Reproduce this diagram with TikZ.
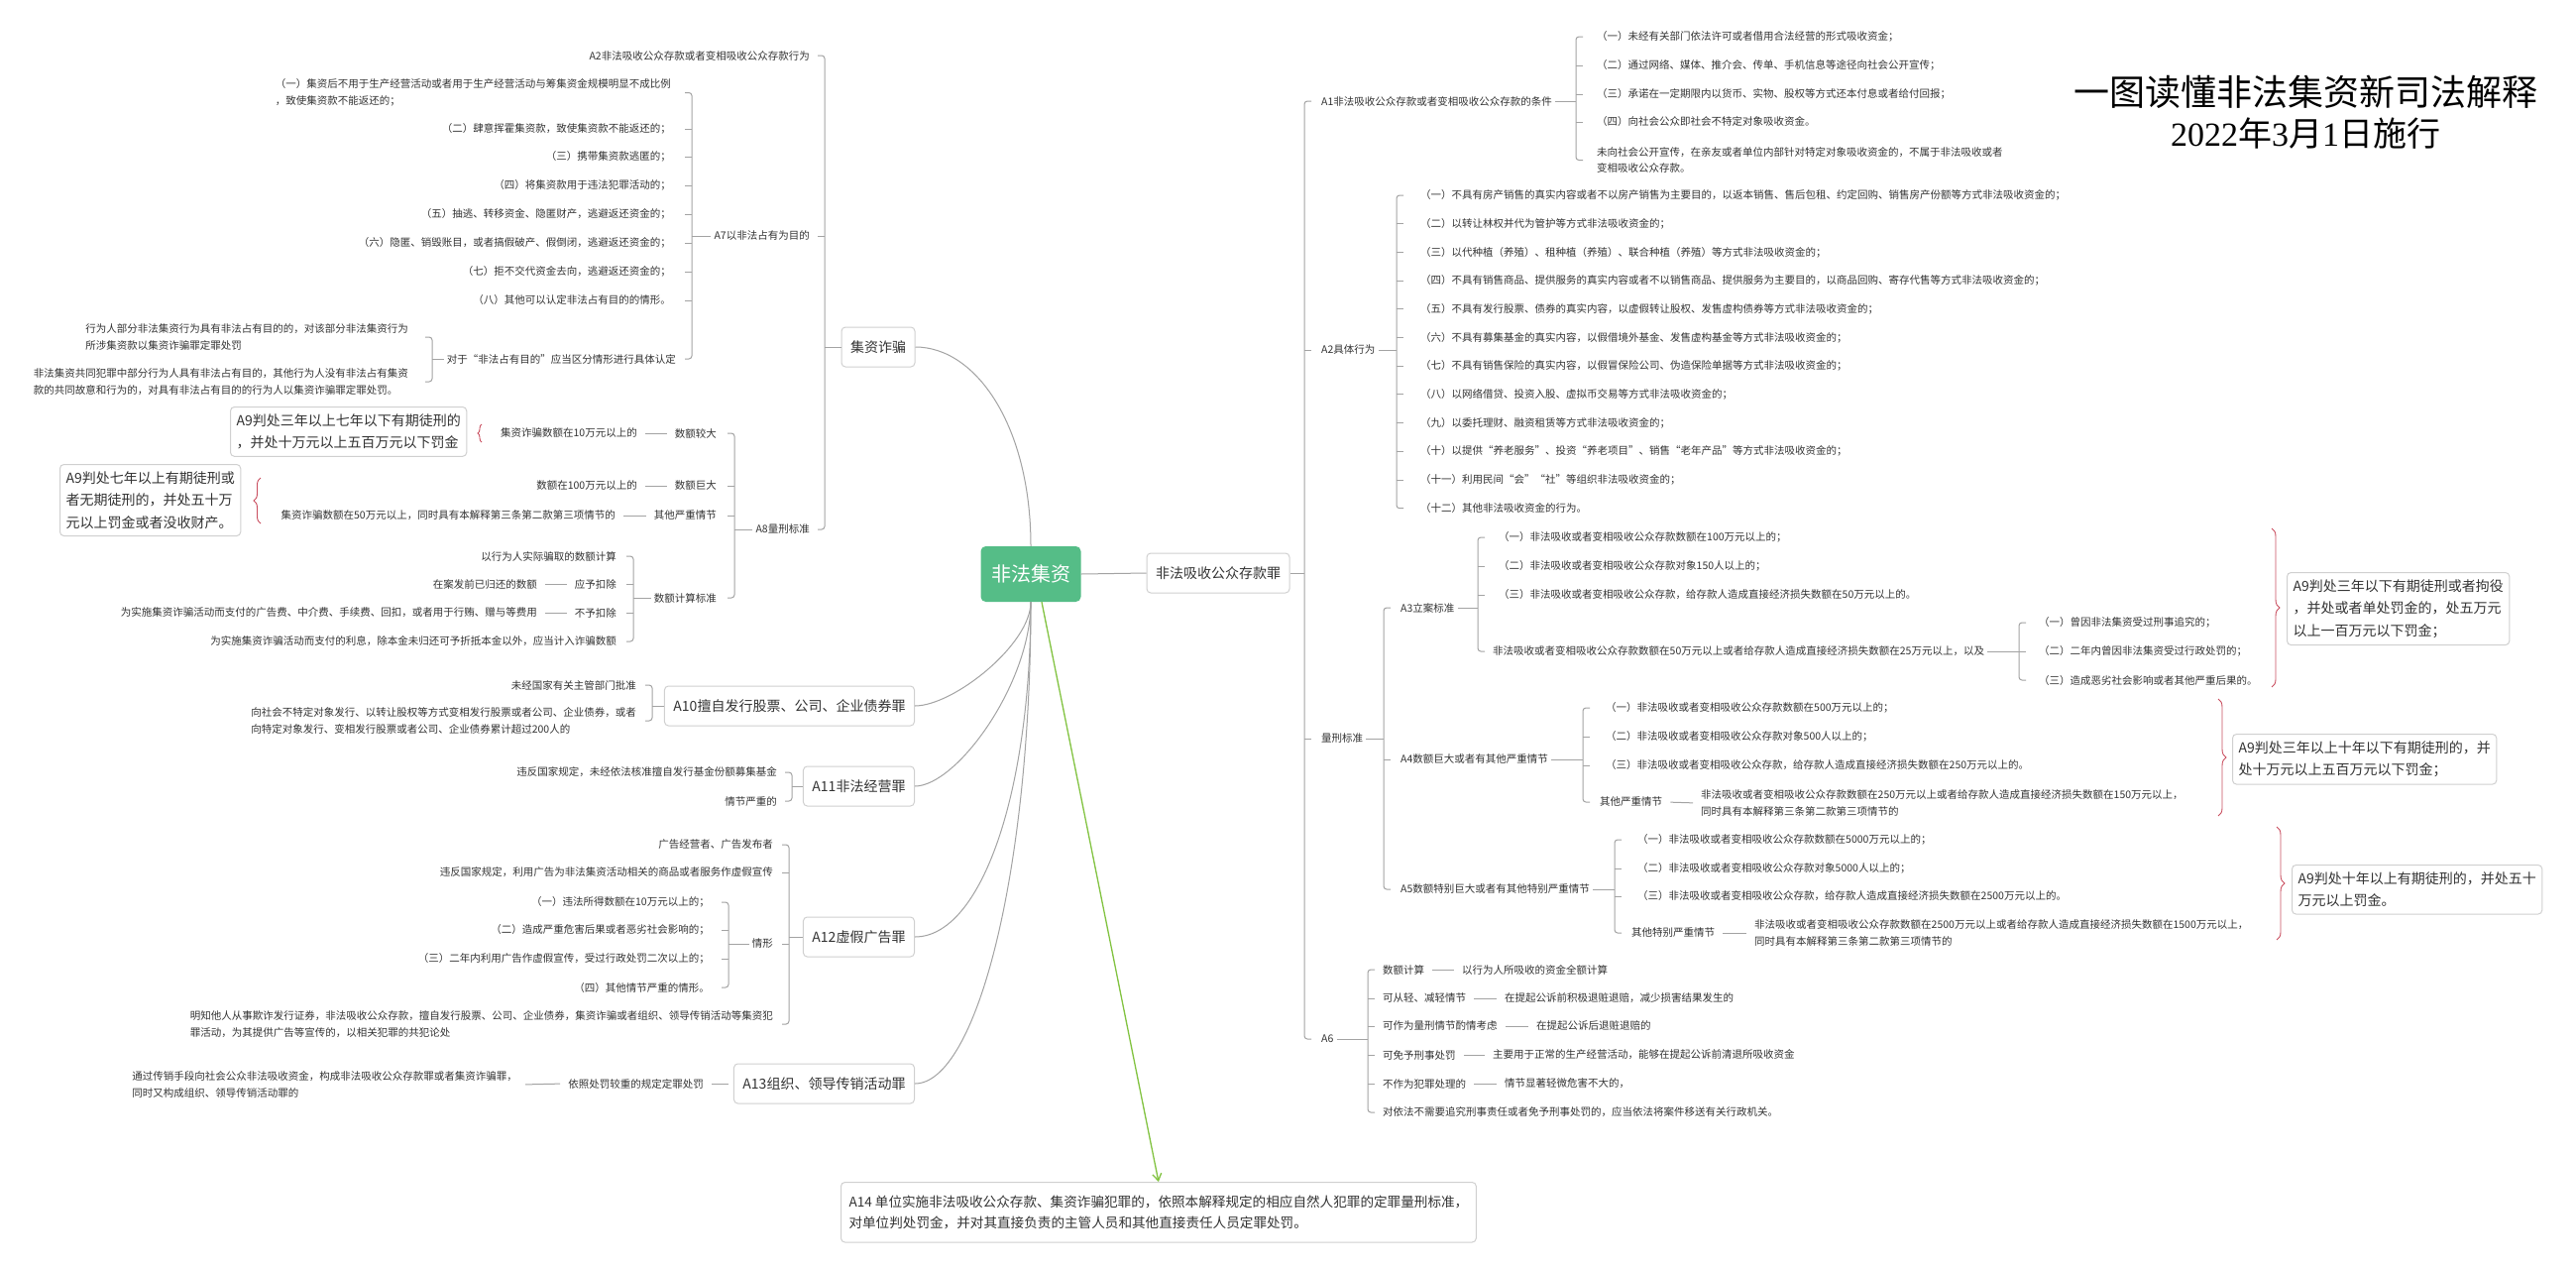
\documentclass[tikz,border=0pt]{standalone}
\usepackage{fontspec}
\setmainfont{Noto Sans CJK SC}
\newfontfamily\numserif{Liberation Serif}
\usetikzlibrary{calc,decorations.pathreplacing,arrows.meta}
\definecolor{txt}{HTML}{333333}
\definecolor{lnc}{HTML}{A3A3A3}
\definecolor{bxc}{HTML}{D0D0D0}
\definecolor{rootc}{HTML}{55BD87}
\definecolor{grn}{HTML}{82C341}
\definecolor{redb}{HTML}{C94D5E}
\newcommand{\RBr}[4]{%
  \draw[ln] (#1.east) -- (#1.east -| #2);
  \draw[ln, rounded corners=3pt] ($(#3.west -| #2)+(7,0)$) -- (#3.west -| #2) -- (#4.west -| #2) -- ($(#4.west -| #2)+(7,0)$);}
\newcommand{\RTk}[2]{\draw[ln] (#1.west -| #2) -- ++(7,0);}
\newcommand{\LBr}[4]{%
  \draw[ln] (#1.west) -- (#1.west -| #2);
  \draw[ln, rounded corners=3pt] ($(#3.east -| #2)+(-7,0)$) -- (#3.east -| #2) -- (#4.east -| #2) -- ($(#4.east -| #2)+(-7,0)$);}
\newcommand{\LTk}[2]{\draw[ln] (#1.east -| #2) -- ++(-7,0);}
\begin{document}
\begin{tikzpicture}[x=1pt,y=-1pt,
  sm/.style={font=\fontsize{10.5}{16.5}\selectfont, text=txt, inner sep=3pt, align=left},
  smw/.style={sm, anchor=west},
  sme/.style={sm, anchor=east},
  ln/.style={draw=lnc, line width=1pt},
  lk/.style={ln, shorten <=5pt, shorten >=5pt},
  box/.style={draw=bxc, line width=1pt, rounded corners=4pt, fill=white, text=txt, font=\fontsize{14}{20}\selectfont, inner xsep=9pt, inner ysep=0pt, minimum height=40pt},
  root/.style={fill=rootc, text=white, rounded corners=5pt, font=\fontsize{20}{24}\selectfont, minimum width=101pt, minimum height=56pt, inner sep=0pt},
  nine/.style={draw=bxc, line width=1pt, rounded corners=4pt, fill=white, text=txt, font=\fontsize{14}{22.5}\selectfont, align=left, inner xsep=6pt, inner ysep=7pt, anchor=north west},
  rbrace/.style={draw=redb, line width=0.9pt, decorate, decoration={brace, amplitude=#1}},
  grarrow/.style={draw=grn, line width=1.3pt, -{Straight Barb[length=7pt,width=9pt]}}]
\fill[white] (0,0) rectangle (2599,1280);
\useasboundingbox (0,0) rectangle (2599,1280);

% ---------- title ----------
\node[font=\fontsize{36}{40}\selectfont, text=black] (title) at (2326,93) {一图读懂非法集资新司法解释};
\node[font=\fontsize{34}{38}\selectfont, text=black] (subtitle) at (2326,135) {{\numserif 2022}年{\numserif 3}月{\numserif 1}日施行};

% ---------- bracket x positions ----------
\coordinate (bR) at (1316,0);  \coordinate (bA1) at (1590,0); \coordinate (bA2) at (1409,0);
\coordinate (bQ) at (1396,0);  \coordinate (bA3) at (1491,0); \coordinate (bA3d) at (2037,0);
\coordinate (bA4) at (1597,0); \coordinate (bA5) at (1629,0); \coordinate (bA6) at (1380,0);
\coordinate (bL) at (832,0);   \coordinate (bA7) at (698,0);  \coordinate (bA7d) at (436,0);
\coordinate (bA8) at (741,0);  \coordinate (bA8e) at (639,0); \coordinate (bA10) at (658,0);
\coordinate (bA11) at (799,0); \coordinate (bA12) at (796,0); \coordinate (bA12d) at (735,0);

% ---------- main nodes ----------
\node[root] (root) at (1040,579) {非法集资};
\node[box] (R) at (1229,578) {非法吸收公众存款罪};
\node[box] (zp) at (886,350) {集资诈骗};
\node[box, anchor=east] (a10) at (923,712) {A10擅自发行股票、公司、企业债券罪};
\node[box, anchor=east] (a11) at (923,793) {A11非法经营罪};
\node[box, anchor=east] (a12) at (923,945) {A12虚假广告罪};
\node[box, anchor=east] (a13) at (923,1093) {A13组织、领导传销活动罪};
\node[draw=bxc, line width=1pt, rounded corners=4pt, fill=white, text=txt, font=\fontsize{13.6}{21.5}\selectfont, align=left, inner xsep=8pt, inner ysep=13pt, anchor=north west] (a14) at (848,1192) {A14 单位实施非法吸收公众存款、集资诈骗犯罪的，依照本解释规定的相应自然人犯罪的定罪量刑标准，\\对单位判处罚金，并对其直接负责的主管人员和其他直接责任人员定罪处罚。};

% root connectors
\draw[ln] (root.east) -- (R.west);
\draw[ln] (root.north) .. controls (1040,430) and (985,350) .. (zp.east);
\draw[ln] (root.south) .. controls (1040,650) and (962,712) .. (a10.east);
\draw[ln] (root.south) .. controls (1040,690) and (965,793) .. (a11.east);
\draw[ln] (root.south) .. controls (1040,800) and (990,945) .. (a12.east);
\draw[ln] (root.south) .. controls (1040,880) and (985,1093) .. (a13.east);
\draw[grarrow] ([xshift=11pt]root.south) -- (a14.north);

% ---------- right: A1 ----------
\node[smw] (a1) at (1330,102) {A1非法吸收公众存款或者变相吸收公众存款的条件};
\node[smw] (a1c1) at (1608,37) {（一）未经有关部门依法许可或者借用合法经营的形式吸收资金；};
\node[smw] (a1c2) at (1608,66) {（二）通过网络、媒体、推介会、传单、手机信息等途径向社会公开宣传；};
\node[smw] (a1c3) at (1608,95) {（三）承诺在一定期限内以货币、实物、股权等方式还本付息或者给付回报；};
\node[smw] (a1c4) at (1608,123) {（四）向社会公众即社会不特定对象吸收资金。};
\node[smw] (a1c5) at (1608,161.5) {未向社会公开宣传，在亲友或者单位内部针对特定对象吸收资金的，不属于非法吸收或者\\变相吸收公众存款。};
\RBr{a1}{bA1}{a1c1}{a1c5}
\foreach \c in {a1c2,a1c3,a1c4} {\RTk{\c}{bA1}}

% ---------- right: A2 ----------
\node[smw] (a2) at (1330,353) {A2具体行为};
\node[smw] (a2c1) at (1430,197) {（一）不具有房产销售的真实内容或者不以房产销售为主要目的，以返本销售、售后包租、约定回购、销售房产份额等方式非法吸收资金的；};
\node[smw] (a2c2) at (1430,225.7) {（二）以转让林权并代为管护等方式非法吸收资金的；};
\node[smw] (a2c3) at (1430,254.4) {（三）以代种植（养殖）、租种植（养殖）、联合种植（养殖）等方式非法吸收资金的；};
\node[smw] (a2c4) at (1430,283.1) {（四）不具有销售商品、提供服务的真实内容或者不以销售商品、提供服务为主要目的，以商品回购、寄存代售等方式非法吸收资金的；};
\node[smw] (a2c5) at (1430,311.8) {（五）不具有发行股票、债券的真实内容，以虚假转让股权、发售虚构债券等方式非法吸收资金的；};
\node[smw] (a2c6) at (1430,340.5) {（六）不具有募集基金的真实内容，以假借境外基金、发售虚构基金等方式非法吸收资金的；};
\node[smw] (a2c7) at (1430,369.2) {（七）不具有销售保险的真实内容，以假冒保险公司、伪造保险单据等方式非法吸收资金的；};
\node[smw] (a2c8) at (1430,397.9) {（八）以网络借贷、投资入股、虚拟币交易等方式非法吸收资金的；};
\node[smw] (a2c9) at (1430,426.6) {（九）以委托理财、融资租赁等方式非法吸收资金的；};
\node[smw] (a2c10) at (1430,455.3) {（十）以提供“养老服务”、投资“养老项目”、销售“老年产品”等方式非法吸收资金的；};
\node[smw] (a2c11) at (1430,484) {（十一）利用民间“会”“社”等组织非法吸收资金的；};
\node[smw] (a2c12) at (1430,512.7) {（十二）其他非法吸收资金的行为。};
\RBr{a2}{bA2}{a2c1}{a2c12}
\foreach \c in {a2c2,a2c3,a2c4,a2c5,a2c6,a2c7,a2c8,a2c9,a2c10,a2c11} {\RTk{\c}{bA2}}

% ---------- right: 量刑标准 ----------
\node[smw] (ql) at (1330,745) {量刑标准};
\node[smw] (a3) at (1410,613) {A3立案标准};
\node[smw] (a3c1) at (1509,542) {（一）非法吸收或者变相吸收公众存款数额在100万元以上的；};
\node[smw] (a3c2) at (1509,571) {（二）非法吸收或者变相吸收公众存款对象150人以上的；};
\node[smw] (a3c3) at (1509,600) {（三）非法吸收或者变相吸收公众存款，给存款人造成直接经济损失数额在50万元以上的。};
\node[smw] (a3c4) at (1503,657) {非法吸收或者变相吸收公众存款数额在50万元以上或者给存款人造成直接经济损失数额在25万元以上，以及};
\node[smw] (a3d1) at (2054,628) {（一）曾因非法集资受过刑事追究的；};
\node[smw] (a3d2) at (2054,657) {（二）二年内曾因非法集资受过行政处罚的；};
\node[smw] (a3d3) at (2054,686) {（三）造成恶劣社会影响或者其他严重后果的。};
\RBr{a3}{bA3}{a3c1}{a3c4}
\foreach \c in {a3c2,a3c3} {\RTk{\c}{bA3}}
\RBr{a3c4}{bA3d}{a3d1}{a3d3}
\RTk{a3d2}{bA3d}

\node[smw] (a4) at (1410,766) {A4数额巨大或者有其他严重情节};
\node[smw] (a4c1) at (1617,714) {（一）非法吸收或者变相吸收公众存款数额在500万元以上的；};
\node[smw] (a4c2) at (1617,743) {（二）非法吸收或者变相吸收公众存款对象500人以上的；};
\node[smw] (a4c3) at (1617,772) {（三）非法吸收或者变相吸收公众存款，给存款人造成直接经济损失数额在250万元以上的。};
\node[smw] (a4c4) at (1611,809) {其他严重情节};
\node[smw] (a4d) at (1713,810) {非法吸收或者变相吸收公众存款数额在250万元以上或者给存款人造成直接经济损失数额在150万元以上，\\同时具有本解释第三条第二款第三项情节的};
\RBr{a4}{bA4}{a4c1}{a4c4}
\foreach \c in {a4c2,a4c3} {\RTk{\c}{bA4}}
\draw[lk] (a4c4.east) -- (a4d.west);

\node[smw] (a5) at (1410,897) {A5数额特别巨大或者有其他特别严重情节};
\node[smw] (a5c1) at (1649,847) {（一）非法吸收或者变相吸收公众存款数额在5000万元以上的；};
\node[smw] (a5c2) at (1649,876) {（二）非法吸收或者变相吸收公众存款对象5000人以上的；};
\node[smw] (a5c3) at (1649,904) {（三）非法吸收或者变相吸收公众存款，给存款人造成直接经济损失数额在2500万元以上的。};
\node[smw] (a5c4) at (1643,941) {其他特别严重情节};
\node[smw] (a5d) at (1767,941) {非法吸收或者变相吸收公众存款数额在2500万元以上或者给存款人造成直接经济损失数额在1500万元以上，\\同时具有本解释第三条第二款第三项情节的};
\RBr{a5}{bA5}{a5c1}{a5c4}
\foreach \c in {a5c2,a5c3} {\RTk{\c}{bA5}}
\draw[lk] (a5c4.east) -- (a5d.west);

\RBr{ql}{bQ}{a3}{a5}
\RTk{a4}{bQ}

% A9 boxes right
\node[nine] (n1) at (2307,577) {A9判处三年以下有期徒刑或者拘役\\，并处或者单处罚金的，处五万元\\以上一百万元以下罚金；};
\node[nine] (n2) at (2252,740) {A9判处三年以上十年以下有期徒刑的，并\\处十万元以上五百万元以下罚金；};
\node[nine] (n3) at (2312,872) {A9判处十年以上有期徒刑的，并处五十\\万元以上罚金。};
\draw[rbrace=8pt] (2292,533) -- (2292,693);
\draw[rbrace=8pt] (2238,705) -- (2238,823);
\draw[rbrace=8pt] (2297,834) -- (2297,948);

% ---------- right: A6 ----------
\node[smw] (a6) at (1330,1048) {A6};
\node[smw] (a6c1) at (1392,978) {数额计算};
\node[smw] (a6d1) at (1472,978) {以行为人所吸收的资金全额计算};
\node[smw] (a6c2) at (1392,1007) {可从轻、减轻情节};
\node[smw] (a6d2) at (1515,1007) {在提起公诉前积极退赃退赔，减少损害结果发生的};
\node[smw] (a6c3) at (1392,1035) {可作为量刑情节酌情考虑};
\node[smw] (a6d3) at (1547,1035) {在提起公诉后退赃退赔的};
\node[smw] (a6c4) at (1392,1064) {可免予刑事处罚};
\node[smw] (a6d4) at (1503,1064) {主要用于正常的生产经营活动，能够在提起公诉前清退所吸收资金};
\node[smw] (a6c5) at (1392,1093) {不作为犯罪处理的};
\node[smw] (a6d5) at (1515,1093) {情节显著轻微危害不大的，};
\node[smw] (a6c6) at (1392,1122) {对依法不需要追究刑事责任或者免予刑事处罚的，应当依法将案件移送有关行政机关。};
\RBr{a6}{bA6}{a6c1}{a6c6}
\foreach \c in {a6c2,a6c3,a6c4,a6c5} {\RTk{\c}{bA6}}
\foreach \i in {1,2,3,4,5} {\draw[lk] (a6c\i.east) -- (a6d\i.west);}

\RBr{R}{bR}{a1}{a6}
\RTk{a2}{bR}
\RTk{ql}{bR}

% ---------- left: 集资诈骗 ----------
\node[sme] (a2l) at (820,56) {A2非法吸收公众存款或者变相吸收公众存款行为};
\node[sme] (a7) at (820,238) {A7以非法占有为目的};
\node[sme] (a7c1) at (680,93.5) {（一）集资后不用于生产经营活动或者用于生产经营活动与筹集资金规模明显不成比例\\，致使集资款不能返还的；};
\node[sme] (a7c2) at (680,130) {（二）肆意挥霍集资款，致使集资款不能返还的；};
\node[sme] (a7c3) at (680,158) {（三）携带集资款逃匿的；};
\node[sme] (a7c4) at (680,187) {（四）将集资款用于违法犯罪活动的；};
\node[sme] (a7c5) at (680,216) {（五）抽逃、转移资金、隐匿财产，逃避返还资金的；};
\node[sme] (a7c6) at (680,245) {（六）隐匿、销毁账目，或者搞假破产、假倒闭，逃避返还资金的；};
\node[sme] (a7c7) at (680,274) {（七）拒不交代资金去向，逃避返还资金的；};
\node[sme] (a7c8) at (680,303) {（八）其他可以认定非法占有目的的情形。};
\node[sme] (a7c9) at (685,362) {对于“非法占有目的”应当区分情形进行具体认定};
\node[sme] (a7d1) at (415,340) {行为人部分非法集资行为具有非法占有目的的，对该部分非法集资行为\\所涉集资款以集资诈骗罪定罪处罚};
\node[sme] (a7d2) at (415,385) {非法集资共同犯罪中部分行为人具有非法占有目的，其他行为人没有非法占有集资\\款的共同故意和行为的，对具有非法占有目的的行为人以集资诈骗罪定罪处罚。};
\LBr{a7}{bA7}{a7c1}{a7c9}
\foreach \c in {a7c2,a7c3,a7c4,a7c5,a7c6,a7c7,a7c8} {\LTk{\c}{bA7}}
\LBr{a7c9}{bA7d}{a7d1}{a7d2}

\node[sme] (a8) at (820,534) {A8量刑标准};
\node[sme] (a8c1) at (726,437) {数额较大};
\node[sme] (a8c2) at (726,490) {数额巨大};
\node[sme] (a8c3) at (726,520) {其他严重情节};
\node[sme] (a8c4) at (726,603) {数额计算标准};
\node[sme] (a8d1) at (646,437) {集资诈骗数额在10万元以上的};
\node[sme] (a8d2) at (646,490) {数额在100万元以上的};
\node[sme] (a8d3) at (624,520) {集资诈骗数额在50万元以上，同时具有本解释第三条第二款第三项情节的};
\node[sme] (a8e1) at (625,561) {以行为人实际骗取的数额计算};
\node[sme] (a8e2) at (625,589) {应予扣除};
\node[sme] (a8e3) at (625,618) {不予扣除};
\node[sme] (a8e4) at (625,647) {为实施集资诈骗活动而支付的利息，除本金未归还可予折抵本金以外，应当计入诈骗数额};
\node[sme] (a8f2) at (545,589) {在案发前已归还的数额};
\node[sme] (a8f3) at (545,618) {为实施集资诈骗活动而支付的广告费、中介费、手续费、回扣，或者用于行贿、赠与等费用};
\LBr{a8}{bA8}{a8c1}{a8c4}
\foreach \c in {a8c2,a8c3} {\LTk{\c}{bA8}}
\foreach \i in {1,2,3} {\draw[lk] (a8d\i.east) -- (a8c\i.west);}
\LBr{a8c4}{bA8e}{a8e1}{a8e4}
\foreach \c in {a8e2,a8e3} {\LTk{\c}{bA8e}}
\draw[lk] (a8f2.east) -- (a8e2.west);
\draw[lk] (a8f3.east) -- (a8e3.west);

\node[nine] (n4) at (232,410) {A9判处三年以上七年以下有期徒刑的\\，并处十万元以上五百万元以下罚金};
\node[nine] (n5) at (60,468) {A9判处七年以上有期徒刑或\\者无期徒刑的，并处五十万\\元以上罚金或者没收财产。};
\draw[rbrace=4pt] (486,446) -- (486,428);
\draw[rbrace=7pt] (263,528) -- (263,482);

\LBr{zp}{bL}{a2l}{a8}
\LTk{a7}{bL}

% ---------- left: A10 ----------
\node[sme] (a10c1) at (645,691) {未经国家有关主管部门批准};
\node[sme] (a10c2) at (645,727) {向社会不特定对象发行、以转让股权等方式变相发行股票或者公司、企业债券，或者\\向特定对象发行、变相发行股票或者公司、企业债券累计超过200人的};
\LBr{a10}{bA10}{a10c1}{a10c2}

% ---------- left: A11 ----------
\node[sme] (a11c1) at (787,779) {违反国家规定，未经依法核准擅自发行基金份额募集基金};
\node[sme] (a11c2) at (787,808) {情节严重的};
\LBr{a11}{bA11}{a11c1}{a11c2}

% ---------- left: A12 ----------
\node[sme] (a12c1) at (783,852) {广告经营者、广告发布者};
\node[sme] (a12c2) at (783,880) {违反国家规定，利用广告为非法集资活动相关的商品或者服务作虚假宣传};
\node[sme] (a12c3) at (783,952) {情形};
\node[sme] (a12c4) at (783,1033) {明知他人从事欺诈发行证券，非法吸收公众存款，擅自发行股票、公司、企业债券，集资诈骗或者组织、领导传销活动等集资犯\\罪活动，为其提供广告等宣传的，以相关犯罪的共犯论处};
\node[sme] (a12d1) at (719,910) {（一）违法所得数额在10万元以上的；};
\node[sme] (a12d2) at (719,938) {（二）造成严重危害后果或者恶劣社会影响的；};
\node[sme] (a12d3) at (719,967) {（三）二年内利用广告作虚假宣传，受过行政处罚二次以上的；};
\node[sme] (a12d4) at (719,996) {（四）其他情节严重的情形。};
\LBr{a12}{bA12}{a12c1}{a12c4}
\foreach \c in {a12c2,a12c3} {\LTk{\c}{bA12}}
\LBr{a12c3}{bA12d}{a12d1}{a12d4}
\foreach \c in {a12d2,a12d3} {\LTk{\c}{bA12d}}

% ---------- left: A13 ----------
\node[sme] (a13c) at (713,1093) {依照处罚较重的规定定罪处罚};
\node[sme] (a13d) at (525,1094) {通过传销手段向社会公众非法吸收资金，构成非法吸收公众存款罪或者集资诈骗罪，\\同时又构成组织、领导传销活动罪的};
\draw[lk] (a13c.east) -- (a13.west);
\draw[lk] (a13d.east) -- (a13c.west);
\end{tikzpicture}
\end{document}
